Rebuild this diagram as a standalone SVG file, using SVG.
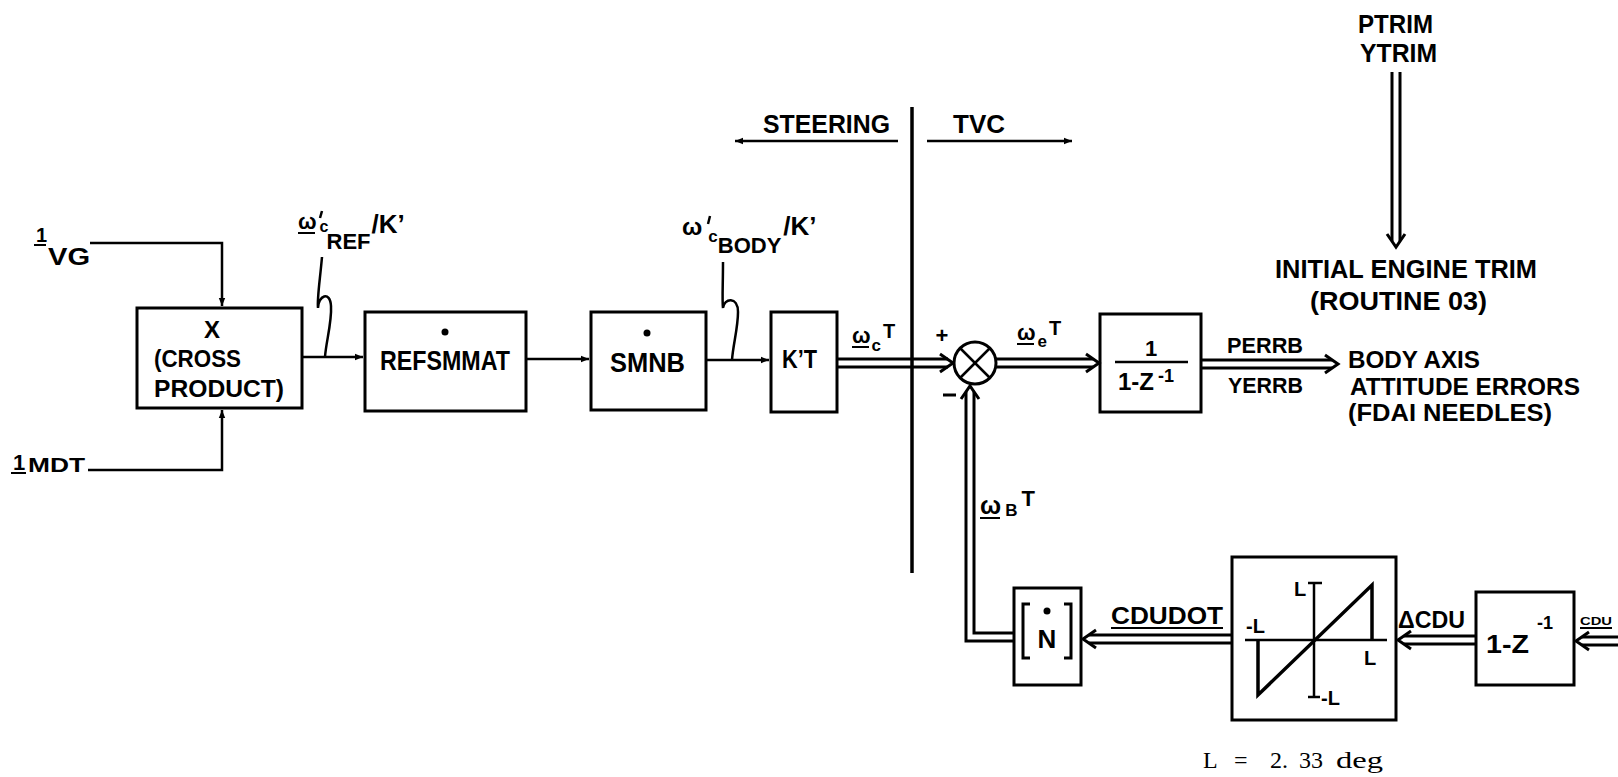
<svg xmlns="http://www.w3.org/2000/svg" width="1618" height="777" viewBox="0 0 1618 777">
<defs>
<style>
.box{fill:none;stroke:#000;stroke-width:3}
.ln{fill:none;stroke:#000;stroke-width:2.5}
.ul{stroke:#000;stroke-width:2}
.t{font-family:"Liberation Sans",Arial,sans-serif;font-weight:bold;fill:#000}
.s{font-family:"Liberation Serif","Times New Roman",serif;fill:#000}
.dbo{fill:none;stroke:#000;stroke-width:11;stroke-linejoin:miter}
.dbi{fill:none;stroke:#fff;stroke-width:5;stroke-linejoin:miter}
.chev{fill:none;stroke:#000;stroke-width:3;stroke-linejoin:miter}
</style>
<marker id="ah" viewBox="0 0 10 10" refX="10" refY="5" markerWidth="10" markerHeight="8" markerUnits="userSpaceOnUse" orient="auto">
<path d="M0,1 L10,5 L0,9 z" fill="#000"/>
</marker>
</defs>
<rect width="1618" height="777" fill="#fff"/>

<g id="connectors">
<polyline class="ln" points="90,243 222,243 222,306" marker-end="url(#ah)"/>
<polyline class="ln" points="88,470 222,470 222,410" marker-end="url(#ah)"/>
<line class="ln" x1="302" y1="357" x2="363" y2="357" marker-end="url(#ah)"/>
<path class="ln" d="M322,257 C320,280 317,298 318,308 C318,296 330,290 331,306 C332,322 326,342 325,357"/>
<line class="ln" x1="526" y1="359" x2="589" y2="359" marker-end="url(#ah)"/>
<line class="ln" x1="706" y1="360" x2="769" y2="360" marker-end="url(#ah)"/>
<path class="ln" d="M723,262 C723,285 722,300 723,308 C724,298 738,296 738,312 C738,328 733,345 732,360"/>
<line class="ln" x1="898" y1="141" x2="735" y2="141" marker-end="url(#ah)"/>
<line class="ln" x1="927" y1="141" x2="1072" y2="141" marker-end="url(#ah)"/>

<path class="dbo" d="M837,363 H948"/><path class="dbi" d="M836,363 H949"/>
<path class="chev" d="M940,354 L953,363 L940,372"/>
<path class="dbo" d="M996,363 H1093"/><path class="dbi" d="M995,363 H1094"/>
<path class="chev" d="M1086,354 L1099,363 L1086,372"/>
<path class="dbo" d="M1201,364 H1332"/><path class="dbi" d="M1200,364 H1333"/>
<path class="chev" d="M1325,355 L1338,364 L1325,373"/>
<path class="dbo" d="M1396,72 V241"/><path class="dbi" d="M1396,71 V242"/>
<path class="chev" d="M1387,234 L1396,247 L1405,234"/>
<path class="dbo" d="M1014,637 H970 V392"/><path class="dbi" d="M1015,637 H970 V391"/>
<path class="chev" d="M961,399 L970,386 L979,399"/>
<path class="dbo" d="M1232,639 H1089"/><path class="dbi" d="M1233,639 H1088"/>
<path class="chev" d="M1096,630 L1083,639 L1096,648"/>
<path class="dbo" d="M1476,640 H1404"/><path class="dbi" d="M1477,640 H1403"/>
<path class="chev" d="M1411,631 L1398,640 L1411,649"/>
<path class="dbo" d="M1618,641 H1582"/><path class="dbi" d="M1619,641 H1581"/>
<path class="chev" d="M1589,632 L1576,641 L1589,650"/>
</g>

<g id="divider">
<line x1="912" y1="107" x2="912" y2="573" stroke="#000" stroke-width="3.5"/>
<text class="t" x="763" y="133" font-size="26" textLength="127" lengthAdjust="spacingAndGlyphs">STEERING</text>
<text class="t" x="953" y="133" font-size="26" textLength="52" lengthAdjust="spacingAndGlyphs">TVC</text>
</g>

<g id="n-vg">
<text class="t" x="36" y="242" font-size="20">1</text>
<line class="ul" x1="34" y1="245" x2="46" y2="245"/>
<text class="t" x="48" y="265" font-size="24" textLength="42" lengthAdjust="spacingAndGlyphs">VG</text>
</g>

<g id="n-mdt">
<text class="t" x="13" y="470" font-size="22">1</text>
<line class="ul" x1="11" y1="473" x2="26" y2="473"/>
<text class="t" x="28" y="472" font-size="21" textLength="57" lengthAdjust="spacingAndGlyphs">MDT</text>
</g>

<g id="n-cross">
<rect class="box" x="137" y="308" width="165" height="100"/>
<text class="t" x="212" y="338" font-size="24" text-anchor="middle">X</text>
<text class="t" x="154" y="367" font-size="24" textLength="87" lengthAdjust="spacingAndGlyphs">(CROSS</text>
<text class="t" x="154" y="397" font-size="24" textLength="130" lengthAdjust="spacingAndGlyphs">PRODUCT)</text>
</g>

<g id="n-wref">
<text class="t" x="298" y="229" font-size="22">ω<tspan font-size="16" dx="3" dy="3">c</tspan><tspan font-size="22" dx="-2" dy="17">REF</tspan><tspan font-size="26" dx="1" dy="-16">/K’</tspan></text>
<line class="ul" x1="298" y1="233" x2="315" y2="233"/>
<path d="M322,211 L320,218" stroke="#000" stroke-width="2.5" fill="none"/>
</g>

<g id="n-refsmmat">
<rect class="box" x="365" y="312" width="161" height="99"/>
<circle cx="445" cy="332" r="3.5" fill="#000"/>
<text class="t" x="380" y="370" font-size="28" textLength="130" lengthAdjust="spacingAndGlyphs">REFSMMAT</text>
</g>

<g id="n-smnb">
<rect class="box" x="591" y="312" width="115" height="98"/>
<circle cx="647" cy="333" r="3.5" fill="#000"/>
<text class="t" x="610" y="372" font-size="28" textLength="75" lengthAdjust="spacingAndGlyphs">SMNB</text>
</g>

<g id="n-wbody">
<text class="t" x="682" y="235" font-size="24">ω<tspan font-size="17" dx="6" dy="7">c</tspan><tspan font-size="22" dy="11">BODY</tspan><tspan font-size="26" dx="2" dy="-18">/K’</tspan></text>
<path d="M710,216 L708,224" stroke="#000" stroke-width="2.5" fill="none"/>
</g>

<g id="n-kt">
<rect class="box" x="771" y="312" width="66" height="100"/>
<text class="t" x="782" y="368" font-size="26" textLength="35" lengthAdjust="spacingAndGlyphs">K’T</text>
</g>

<g id="n-wc">
<text class="t" x="852" y="343" font-size="22">ω<tspan font-size="17" dx="1" dy="8">c</tspan><tspan font-size="20" dx="2" dy="-13">T</tspan></text>
<line class="ul" x1="852" y1="347" x2="869" y2="347"/>
</g>

<g id="n-sum">
<circle cx="975" cy="363" r="21" fill="#fff" stroke="#000" stroke-width="3"/>
<line x1="960" y1="348" x2="990" y2="378" stroke="#000" stroke-width="2.5"/>
<line x1="990" y1="348" x2="960" y2="378" stroke="#000" stroke-width="2.5"/>
<text class="t" x="942" y="343" font-size="22" text-anchor="middle">+</text>
<line x1="943" y1="395" x2="956" y2="395" stroke="#000" stroke-width="3"/>
</g>

<g id="n-we">
<text class="t" x="1017" y="340" font-size="22">ω<tspan font-size="17" dx="2" dy="7">e</tspan><tspan font-size="20" dx="2" dy="-12">T</tspan></text>
<line class="ul" x1="1017" y1="344" x2="1034" y2="344"/>
</g>

<g id="n-integ">
<rect class="box" x="1100" y="314" width="101" height="98"/>
<text class="t" x="1151" y="356" font-size="22" text-anchor="middle">1</text>
<line x1="1115" y1="362" x2="1188" y2="362" stroke="#000" stroke-width="2.5"/>
<text class="t" x="1118" y="390" font-size="24"><tspan textLength="36" lengthAdjust="spacingAndGlyphs">1-Z</tspan><tspan font-size="18" dx="4" dy="-8">-1</tspan></text>
</g>

<g id="n-errb">
<text class="t" x="1227" y="353" font-size="22" textLength="76" lengthAdjust="spacingAndGlyphs">PERRB</text>
<text class="t" x="1228" y="393" font-size="22" textLength="75" lengthAdjust="spacingAndGlyphs">YERRB</text>
</g>

<g id="n-body">
<text class="t" x="1348" y="368" font-size="23.5" textLength="132" lengthAdjust="spacingAndGlyphs">BODY AXIS</text>
<text class="t" x="1350" y="394.5" font-size="23.5" textLength="230" lengthAdjust="spacingAndGlyphs">ATTITUDE ERRORS</text>
<text class="t" x="1348" y="421" font-size="23.5" textLength="204" lengthAdjust="spacingAndGlyphs">(FDAI NEEDLES)</text>
</g>

<g id="n-trim">
<text class="t" x="1358" y="33" font-size="26" textLength="75" lengthAdjust="spacingAndGlyphs">PTRIM</text>
<text class="t" x="1360" y="62" font-size="26" textLength="77" lengthAdjust="spacingAndGlyphs">YTRIM</text>
<text class="t" x="1275" y="278" font-size="25" textLength="262" lengthAdjust="spacingAndGlyphs">INITIAL ENGINE TRIM</text>
<text class="t" x="1310" y="310" font-size="25" textLength="177" lengthAdjust="spacingAndGlyphs">(ROUTINE 03)</text>
</g>

<g id="n-wb">
<text class="t" x="980" y="514" font-size="25">ω<tspan font-size="17" dx="4" dy="2">B</tspan><tspan font-size="22" dx="4" dy="-10">T</tspan></text>
<line class="ul" x1="980" y1="518" x2="1000" y2="518"/>
</g>

<g id="n-N">
<rect class="box" x="1014" y="588" width="67" height="97"/>
<path d="M1030,604 H1023 V658 H1030" fill="none" stroke="#000" stroke-width="3"/>
<path d="M1064,604 H1071 V658 H1064" fill="none" stroke="#000" stroke-width="3"/>
<circle cx="1047" cy="611" r="3.5" fill="#000"/>
<text class="t" x="1047" y="648" font-size="26" text-anchor="middle">N</text>
</g>

<g id="n-cdudot">
<text class="t" x="1111" y="624" font-size="24" textLength="112" lengthAdjust="spacingAndGlyphs">CDUDOT</text>
<line class="ul" x1="1111" y1="628" x2="1223" y2="628"/>
</g>

<g id="n-limit">
<rect class="box" x="1232" y="557" width="164" height="163"/>
<line x1="1245" y1="640" x2="1387" y2="640" stroke="#000" stroke-width="2.5"/>
<line x1="1314" y1="583" x2="1314" y2="697" stroke="#000" stroke-width="2.5"/>
<line x1="1308" y1="583" x2="1322" y2="583" stroke="#000" stroke-width="2.5"/>
<line x1="1308" y1="697" x2="1320" y2="697" stroke="#000" stroke-width="2.5"/>
<polyline points="1258,640 1258,695 1372,585 1372,640" fill="none" stroke="#000" stroke-width="3.5" stroke-linejoin="miter"/>
<text class="t" x="1294" y="596" font-size="20">L</text>
<text class="t" x="1246" y="633" font-size="20">-L</text>
<text class="t" x="1364" y="665" font-size="20">L</text>
<text class="t" x="1321" y="705" font-size="20">-L</text>
</g>

<g id="n-dcdu">
<text class="t" x="1398" y="628" font-size="24" textLength="67" lengthAdjust="spacingAndGlyphs">ΔCDU</text>
</g>

<g id="n-diff">
<rect class="box" x="1476" y="592" width="98" height="93"/>
<text class="t" x="1486" y="653" font-size="25"><tspan textLength="43" lengthAdjust="spacingAndGlyphs">1-Z</tspan><tspan font-size="18" dx="8" dy="-24">-1</tspan></text>
</g>

<g id="n-cdu">
<text class="t" x="1580" y="625" font-size="11" textLength="32" lengthAdjust="spacingAndGlyphs">CDU</text>
<line class="ul" x1="1580" y1="628" x2="1612" y2="628"/>
</g>

<g id="n-note">
<text class="s" y="768" font-size="24"><tspan x="1203">L</tspan><tspan x="1234">=</tspan><tspan x="1270">2.</tspan><tspan x="1299">33</tspan><tspan x="1336" textLength="47" lengthAdjust="spacingAndGlyphs">deg</tspan></text>
</g>
</svg>
